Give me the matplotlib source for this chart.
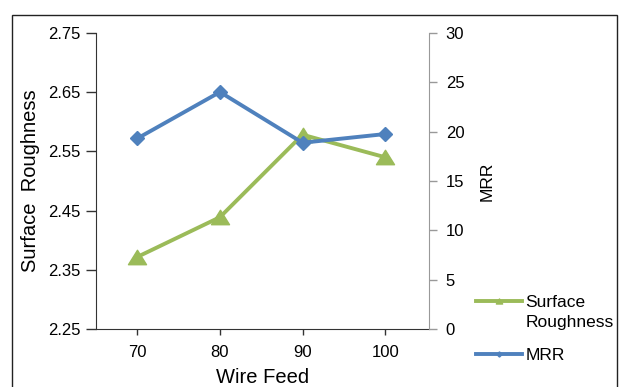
import matplotlib
matplotlib.use("Agg")
import matplotlib.pyplot as plt
from matplotlib.patches import Rectangle
from matplotlib.path import Path
from matplotlib.transforms import Affine2D
from matplotlib.legend_handler import HandlerLine2D

plt.rcParams['font.family'] = ['Liberation Sans', 'DejaVu Sans']

wire_feed = ["70", "80", "90", "100"]
surface_roughness = [2.372, 2.439, 2.578, 2.540]
mrr = [19.3, 24.0, 18.87, 19.75]
left_ticks = [2.25, 2.35, 2.45, 2.55, 2.65, 2.75]
right_ticks = [0, 5, 10, 15, 20, 25, 30]

green = "#9BBB59"
blue = "#4F81BD"

W, H = 619, 387
fig = plt.figure(figsize=(W / 100, H / 100), dpi=100)
fig.patch.set_facecolor("white")

ax = fig.add_axes([96 / W, 1 - 329.3 / H, (429 - 96) / W, (329.3 - 32.7) / H])
x = list(range(len(wire_feed)))

tri = Path([(0, 0.8), (-1, -0.8), (1, -0.8), (0, 0.8)],
           [Path.MOVETO, Path.LINETO, Path.LINETO, Path.CLOSEPOLY])

l1, = ax.plot(x, surface_roughness, color=green, lw=2.8, marker=tri,
              markersize=13, markeredgecolor=green, markerfacecolor=green,
              label="Surface\nRoughness")
ax.set_xlim(-0.5, 3.53)
ax.set_ylim(2.25, 2.75)
ax.set_yticks(left_ticks)
ax.set_yticklabels([f"{v:.2f}" for v in left_ticks])
ax.set_xticks(x)
ax.set_xticklabels(wire_feed)
for s in ["top", "right"]:
    ax.spines[s].set_visible(False)
ax.spines["left"].set_color("#333333")
ax.spines["bottom"].set_color("#333333")
ax.tick_params(axis="y", direction="out", length=7, width=1, color="#333333",
               labelsize=12, pad=4)
ax.tick_params(axis="x", direction="out", length=4, width=1, color="#333333",
               labelsize=12, pad=7)
ax.set_xlabel("Wire Feed", fontsize=14.5, labelpad=6)
ax.set_ylabel("Surface  Roughness", fontsize=14.5, labelpad=6)

ax2 = ax.twinx()
l2, = ax2.plot(x, mrr, color=blue, lw=2.8, marker="D", markersize=7.5,
               markeredgecolor=blue, markerfacecolor=blue, label="MRR")
ax2.set_ylim(0, 30)
ax2.set_yticks(right_ticks)
for s in ["top", "left", "bottom"]:
    ax2.spines[s].set_visible(False)
ax2.spines["right"].set_color("#999999")
ax2.tick_params(axis="y", direction="out", length=6, width=1, color="#999999",
                labelsize=12, pad=6)
ax2.set_ylabel("MRR", fontsize=12.5, labelpad=11)


class ShiftedHandler(HandlerLine2D):
    def __init__(self, dy, **kw):
        super().__init__(**kw)
        self.dy = dy

    def create_artists(self, legend, orig_handle, xdescent, ydescent, width,
                       height, fontsize, trans):
        arts = super().create_artists(legend, orig_handle, xdescent, ydescent,
                                      width, height, fontsize, trans)
        for a in arts:
            a.set_transform(Affine2D().translate(0, self.dy) + trans)
        return arts


leg = fig.legend(handles=[l1, l2], loc="upper left",
                 bbox_to_anchor=(469 / W, 1 - 288 / H), frameon=False,
                 fontsize=12.5, handlelength=2.65, handletextpad=0.2,
                 labelspacing=1.05, markerscale=0.35, borderaxespad=0,
                 handler_map={l1: ShiftedHandler(8.0, marker_pad=0.3)})
for t in leg.get_texts():
    t.set_linespacing(1.4)

fig.patches.append(Rectangle((12 / W, -0.02), (617 - 12) / W, (387 - 15) / H + 0.02,
                             transform=fig.transFigure, fill=False,
                             edgecolor="#222222", lw=1))

fig.savefig("out.png", dpi=100)
